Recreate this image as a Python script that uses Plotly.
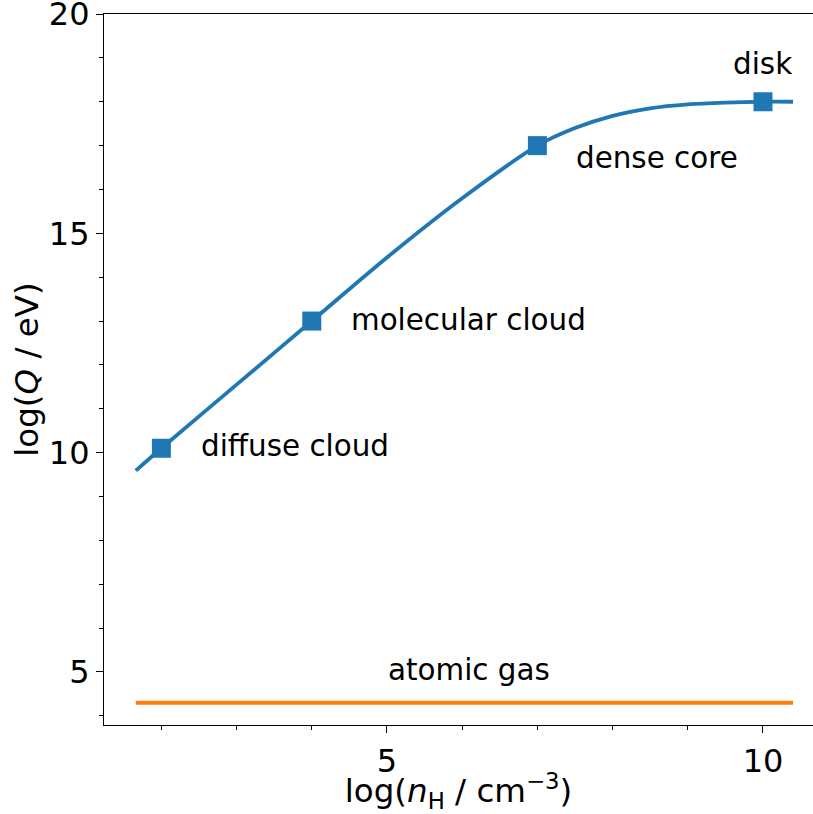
import plotly.graph_objects as go

# curve
curve_x = [1.66, 2.0, 3.0, 4.0, 5.0, 6.0, 7.0, 7.5, 8.0, 8.5, 9.0, 9.5, 10.0, 10.4]
curve_y = [9.59, 10.1, 11.55, 13.0, 14.45, 15.8, 17.0, 17.4, 17.68, 17.85, 17.94, 17.98, 18.0, 18.0]

# marked stages
stage_x = [2, 4, 7, 10]
stage_y = [10.1, 13.0, 17.0, 18.0]
stage_names = ["diffuse cloud", "molecular cloud", "dense core", "disk"]

# atomic gas level
atomic_x = [1.66, 10.4]
atomic_y = [4.3, 4.3]

# label positions (data coords)
label_x = [2.50, 4.49, 7.49, 10.0, 6.09]
label_y = [10.15, 13.03, 16.72, 18.86, 5.05]
label_text = stage_names + ["atomic gas"]
label_anchor = ["left", "left", "left", "center", "center"]

blue = "#1f77b4"
orange = "#ff7f0e"
FONT = "DejaVu Sans"

fig = go.Figure()
fig.add_trace(go.Scatter(x=curve_x, y=curve_y, mode="lines",
                         line=dict(color=blue, width=3.8, shape="spline", smoothing=0.8),
                         showlegend=False, hoverinfo="skip"))
fig.add_trace(go.Scatter(x=stage_x, y=stage_y, mode="markers",
                         marker=dict(symbol="square", size=19, color=blue),
                         showlegend=False))
fig.add_trace(go.Scatter(x=atomic_x, y=atomic_y, mode="lines",
                         line=dict(color=orange, width=4),
                         showlegend=False))

for tx, ty, tt, ta in zip(label_x, label_y, label_text, label_anchor):
    fig.add_annotation(x=tx, y=ty, text=tt, showarrow=False, xanchor=ta, yanchor="middle",
                       font=dict(size=29.4, color="black", family=FONT))

axis_common = dict(showgrid=False, zeroline=False, showline=True, linecolor="black",
                   linewidth=1.2, ticks="outside", ticklen=7, tickwidth=1.2, tickcolor="black",
                   automargin=False, ticklabeloverflow="allow",
                   tickfont=dict(size=32, color="black", family=FONT),
                   minor=dict(dtick=1, ticks="outside", ticklen=4, tickwidth=1, tickcolor="black"))

fig.update_xaxes(range=[1.237, 10.665], tick0=0, dtick=5, mirror=True,
                 title=dict(text="log(<i>n</i><sub>H</sub> / cm<sup>−3</sup>)",
                            font=dict(size=32.5, color="black", family=FONT), standoff=14),
                 **axis_common)
fig.update_yaxes(range=[3.79, 20.001], tick0=0, dtick=5,
                 title=dict(text="log(<i>Q</i> / eV)",
                            font=dict(size=32.5, color="black", family=FONT), standoff=0),
                 **axis_common)

fig.update_layout(template="none", width=813, height=814,
                  margin=dict(l=104, r=0, t=14, b=89, autoexpand=False),
                  plot_bgcolor="white", paper_bgcolor="white",
                  font=dict(family=FONT, color="black"))

fig.write_html("out.html", config={"displayModeBar": False},
               post_script="document.body.style.margin='0';document.body.style.overflow='hidden';")
